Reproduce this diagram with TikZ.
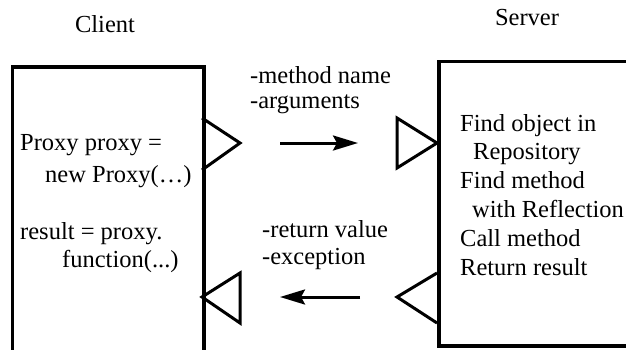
\documentclass[tikz,border=0pt]{standalone}
\usepackage{fontspec}
\setmainfont{Liberation Serif}
\usetikzlibrary{positioning}
\usetikzlibrary{arrows.meta}

\tikzset{
  box/.style={draw,line width=3.5pt,inner sep=0pt,anchor=north west},
  port/.style={line width=3pt,line join=miter},
  txt/.style={anchor=base west,inner sep=0pt,font=\fontsize{24.5}{28}\selectfont},
  title/.style={anchor=base,inner sep=0pt,font=\fontsize{24.5}{28}\selectfont},
  flow/.style={-{Stealth[length=25pt,width=15pt,inset=4pt]},line width=3pt},
}

\begin{document}
\begin{tikzpicture}[x=1pt,y=-1pt]
       \useasboundingbox (0,0) rectangle (626,349);
       % the two sides
       \node[box,minimum width=191.5pt,minimum height=310pt] (client) at (10.5,65) {};
       \node[box,minimum width=220pt,minimum height=284.5pt] (server) at (437,59.5) {};
       \node[title] (clientname) at (105,32) {Client};
       \node[title] (servername) at (527,25) {Server};
       % ports
       \draw[port] (202,118) -- (240,143) -- (202,170);
       \draw[port] (240,273) -- (202,297) -- (240,323) -- cycle;
       \draw[port] (397,118) -- (437,143) -- (397,168) -- cycle;
       \draw[port] (437,273) -- (397,297) -- (437,323);
       % messages
       \coordinate (callfrom) at (280,143);
       \coordinate (callto) at (358,143);
       \coordinate (replyfrom) at (360,297);
       \coordinate (replyto) at (280,297);
       \draw[flow] (callfrom) -- (callto);
       \draw[flow] (replyfrom) -- (replyto);
       \node[txt] (mname) at (250,83) {-method name};
       \node[txt] (margs) at (250,108) {-arguments};
       \node[txt] (rvalue) at (262,237) {-return value};
       \node[txt] (rexc) at (262,264) {-exception};
       % client code
       \node[txt] (c1) at (20,150) {Proxy proxy =};
       \node[txt] (c2) at (45,182) {new Proxy(…)};
       \node[txt] (c3) at (20,239) {result = proxy.};
       \node[txt] (c4) at (62,267) {function(...)};
       % server steps
       \node[txt] (s1) at (460,131) {Find object in};
       \node[txt] (s2) at (473,159) {Repository};
       \node[txt] (s3) at (460,188) {Find method};
       \node[txt] (s4) at (472,217) {with Reflection};
       \node[txt] (s5) at (460,246) {Call method};
       \node[txt] (s6) at (460,275) {Return result};
\end{tikzpicture}
\end{document}
